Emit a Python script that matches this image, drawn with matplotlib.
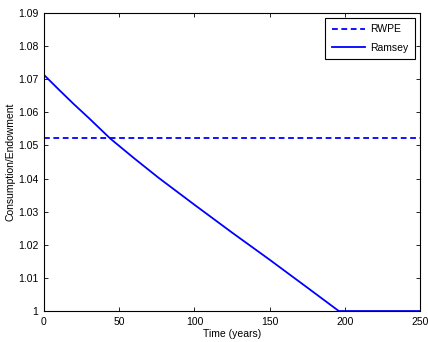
import matplotlib
matplotlib.use("Agg")
from matplotlib import pyplot as plt
from matplotlib.ticker import FuncFormatter

plt.rcParams['font.family'] = ['Liberation Sans', 'DejaVu Sans']

# Ramsey path
ramsey_t = [0, 10, 20, 30, 44, 60, 76, 100, 125, 150, 175, 196, 220, 250]
ramsey_c = [1.0713, 1.0668, 1.0624, 1.0582, 1.0521, 1.0461, 1.0403, 1.0321,
            1.0237, 1.0155, 1.0071, 1.0000, 1.0000, 1.0000]

# RWPE is flat
rwpe_t = [0, 250]
rwpe_c = [1.0521, 1.0521]

xticks = [0, 50, 100, 150, 200, 250]
yticks = [1.0, 1.01, 1.02, 1.03, 1.04, 1.05, 1.06, 1.07, 1.08, 1.09]

fig = plt.figure(figsize=(4.28, 3.42), dpi=100)
ax = fig.add_axes([0.1028, 0.0906, 0.8785, 0.8714])

ax.plot(rwpe_t, rwpe_c, '--', color='blue', lw=1.3, label='RWPE',
        dashes=(3.2, 2))
ax.plot(ramsey_t, ramsey_c, '-', color='blue', lw=1.3, label='Ramsey')

ax.set_xlim(0, 250)
ax.set_ylim(1.0, 1.09)
ax.set_xticks(xticks)
ax.set_yticks(yticks)
ax.yaxis.set_major_formatter(FuncFormatter(lambda v, p: '%g' % round(v, 2)))
ax.tick_params(direction='in', top=True, right=True, labelsize=7.5,
               length=3, width=0.6, pad=4)
for s in ax.spines.values():
    s.set_linewidth(0.8)

ax.set_xlabel('Time (years)', fontsize=7.5, labelpad=2)
ax.set_ylabel('Consumption/Endowment', fontsize=7.5, labelpad=2)

leg = ax.legend(loc='upper right', fontsize=7.5, fancybox=False,
                edgecolor='black', framealpha=1, handlelength=3.2,
                borderaxespad=0.5, borderpad=0.6, labelspacing=0.8,
                handletextpad=0.5)
leg.get_frame().set_linewidth(0.8)

fig.savefig('out.png', dpi=100)
